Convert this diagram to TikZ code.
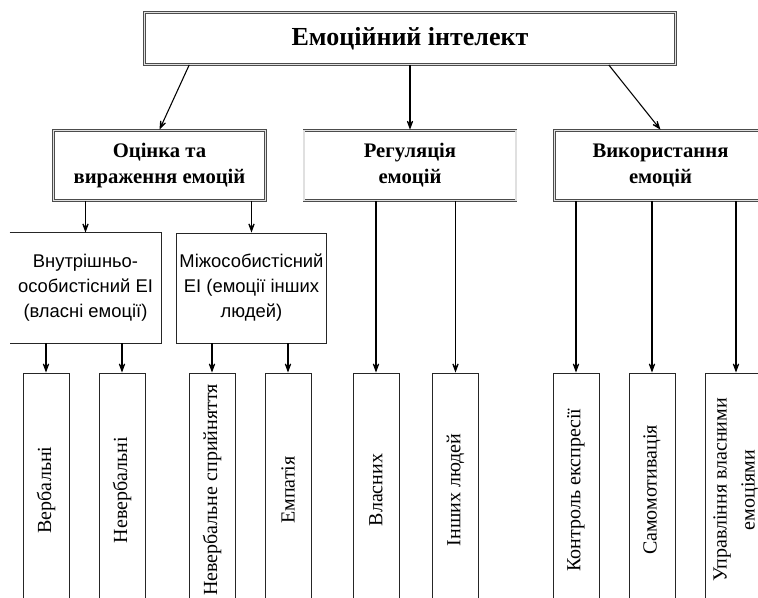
\documentclass[tikz,border=0pt]{standalone}
\usepackage{fontspec}
\setmainfont{Liberation Serif}
\newfontfamily\arialfont{Liberation Sans}
\usetikzlibrary{positioning,arrows.meta}
\tikzset{
    topBox/.style={draw=black!70, double=black!12, double distance=0.8pt, line width=0.7pt,
        minimum width=398pt, minimum height=39pt, inner sep=0pt,
        font=\bfseries\fontsize{19.5}{22}\selectfont},
    frameBox/.style={draw=black!70, double=black!12, double distance=0.8pt, line width=0.7pt,
        minimum width=159pt, minimum height=53pt, inner sep=0pt, align=center,
        font=\bfseries\fontsize{15.5}{19.5}\selectfont},
    subBox/.style={line width=0.7pt, draw=black!85, minimum width=113pt, minimum height=82.5pt,
        inner sep=0pt, align=center, font=\arialfont\fontsize{13.8}{18.75}\selectfont},
    leafBox/.style={draw=black!85, line width=0.7pt, rotate=90, minimum width=175.5pt,
        minimum height=34.5pt, inner sep=0pt, align=center, font=\fontsize{15}{21}\selectfont},
    arr/.style={line width=0.8pt, -{Stealth[length=10pt, width=7.5pt, inset=6pt]}}
}
\begin{document}
\begin{tikzpicture}[x=0.75pt,y=-0.75pt]
    \useasboundingbox (0,0) rectangle (758,598);
    \clip (0,0) rectangle (758,598);
    \node[topBox] (ei) at (410,38.5) {Емоційний інтелект};
    \node[frameBox] (ocinka) at (159.5,165.5) {Оцінка та\\вираження емоцій};
    \node[frameBox] (regul) at (410,165.5) {Регуляція\\емоцій};
    \node[frameBox] (vykor) at (660.5,165.5) {Використання\\емоцій};
    % second level
    \node[subBox, draw=none] (vnutr) at (85.5,288) {Внутрішньо-\\особистісний ЕІ\\(власні емоції)};
    \draw[line width=0.7pt, black!85] (vnutr.north west) -- (vnutr.north east) -- (vnutr.south east) -- (vnutr.south west);
    \node[subBox] (mizh) at (251.5,288) {Міжособистісний\\ЕІ (емоції інших\\людей)};
    % leaves
    \node[leafBox] (verb) at (46,490) {Вербальні};
    \node[leafBox] (neverb) at (122,490) {Невербальні};
    \node[leafBox] (nsp) at (212,490) {Невербальне сприйняття};
    \node[leafBox] (emp) at (288,490) {Емпатія};
    \node[leafBox] (vlas) at (376,490) {Власних};
    \node[leafBox] (inshi) at (455.5,490) {Інших людей};
    \node[leafBox] (kontr) at (576,490) {Контроль експресії};
    \node[leafBox] (samo) at (652,490) {Самомотивація};
    \node[leafBox, minimum height=46.5pt] (upr) at (736,490) {Управління власними\\емоціями};
    % arrows
    \draw[arr] ([xshift=33.75pt]ei.south west) -- (ocinka.north);
    \draw[arr] (ei.south) -- (regul.north);
    \draw[arr] ([xshift=-50.25pt]ei.south east) -- (vykor.north);
    \draw[arr] (ocinka.south -| vnutr.north) -- (vnutr.north);
    \draw[arr] (ocinka.south -| mizh.north) -- (mizh.north);
    \draw[arr] (vnutr.south -| verb.east) -- (verb.east);
    \draw[arr] (vnutr.south -| neverb.east) -- (neverb.east);
    \draw[arr] (mizh.south -| nsp.east) -- (nsp.east);
    \draw[arr] (mizh.south -| emp.east) -- (emp.east);
    \draw[arr] (regul.south -| vlas.east) -- (vlas.east);
    \draw[arr] (regul.south -| inshi.east) -- (inshi.east);
    \draw[arr] (vykor.south -| kontr.east) -- (kontr.east);
    \draw[arr] (vykor.south -| samo.east) -- (samo.east);
    \draw[arr] (vykor.south -| upr.east) -- (upr.east);
\end{tikzpicture}
\end{document}
